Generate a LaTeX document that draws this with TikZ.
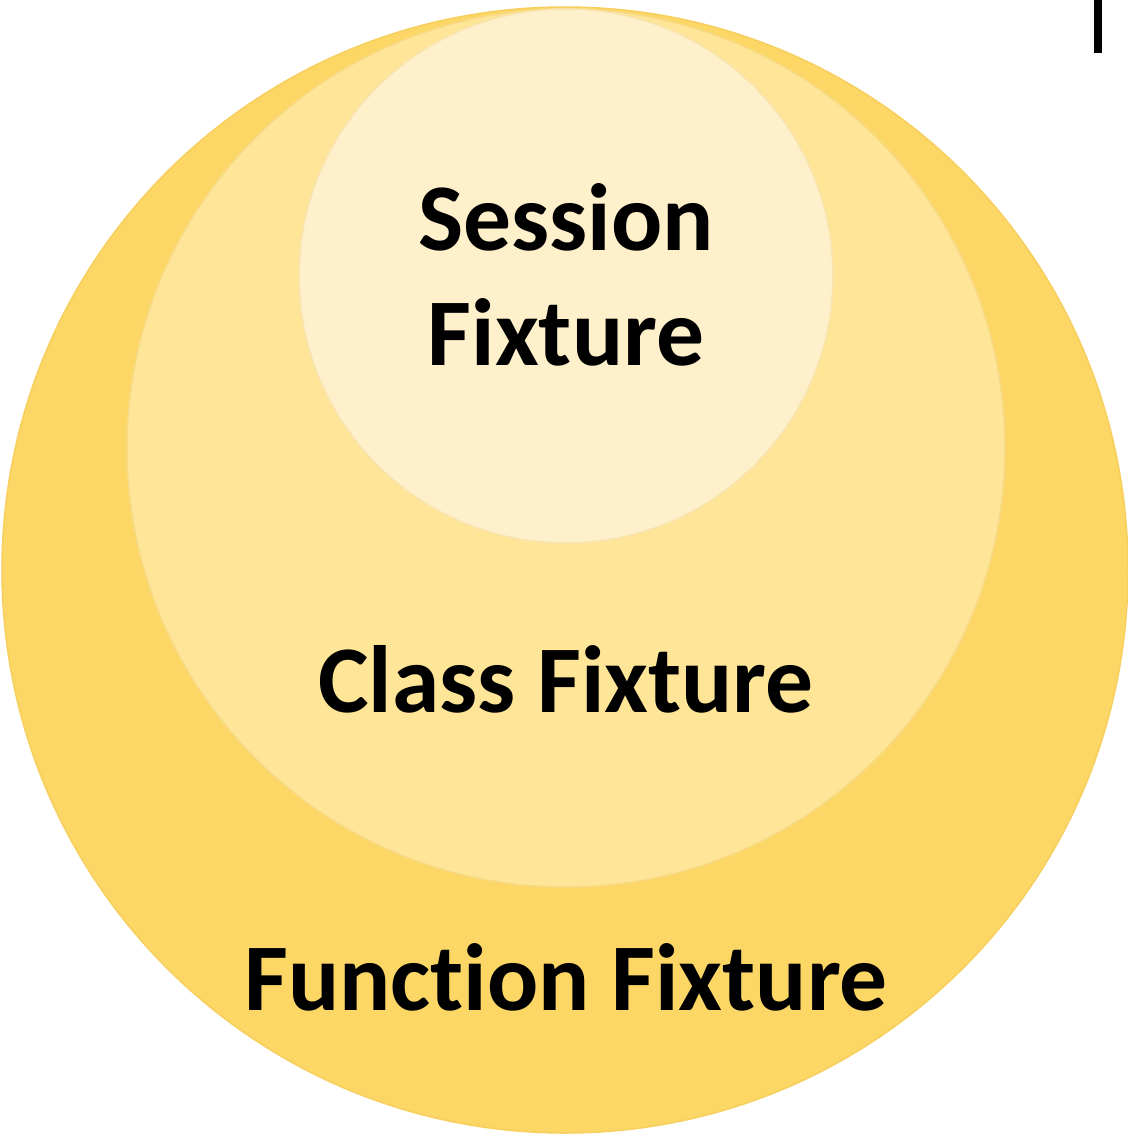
\documentclass[tikz,border=0pt]{standalone}
\usepackage{fontspec}
\setmainfont[Ligatures=NoCommon]{Carlito}
\definecolor{outerfill}{HTML}{FDD766}
\definecolor{outeredge}{HTML}{F6CF5E}
\definecolor{midfill}{HTML}{FEE597}
\definecolor{midedge}{HTML}{F8DA86}
\definecolor{innerfill}{HTML}{FEF0CB}
\definecolor{inneredge}{HTML}{F9E4B0}
\tikzset{
  ring/.style={line width=1.5pt},
  lbl/.style={font=\fontsize{95.5}{110}\selectfont\bfseries, text=black, anchor=base, inner sep=0pt}
}
\begin{document}
\begin{tikzpicture}[x=1pt,y=-1pt]
  \useasboundingbox (0,0) rectangle (1127,1137);
  % nested fixture scopes
  \draw[ring, fill=outerfill, draw=outeredge] (565,570) circle [radius=563pt];
  \draw[ring, fill=midfill, draw=midedge] (566,448) circle [radius=439pt];
  \draw[ring, fill=innerfill, draw=inneredge] (566,276) circle [radius=267pt];
  % small marker at the top right
  \fill[black] (1094,0) rectangle (1102,53);
  % labels
  \node[lbl] (session) at (566,250) {Session};
  \node[lbl] (sfix) at (566,365) {Fixture};
  \node[lbl] (class) at (566,712) {Class Fixture};
  \node[lbl] (func) at (566,1010) {Function Fixture};
\end{tikzpicture}
\end{document}
